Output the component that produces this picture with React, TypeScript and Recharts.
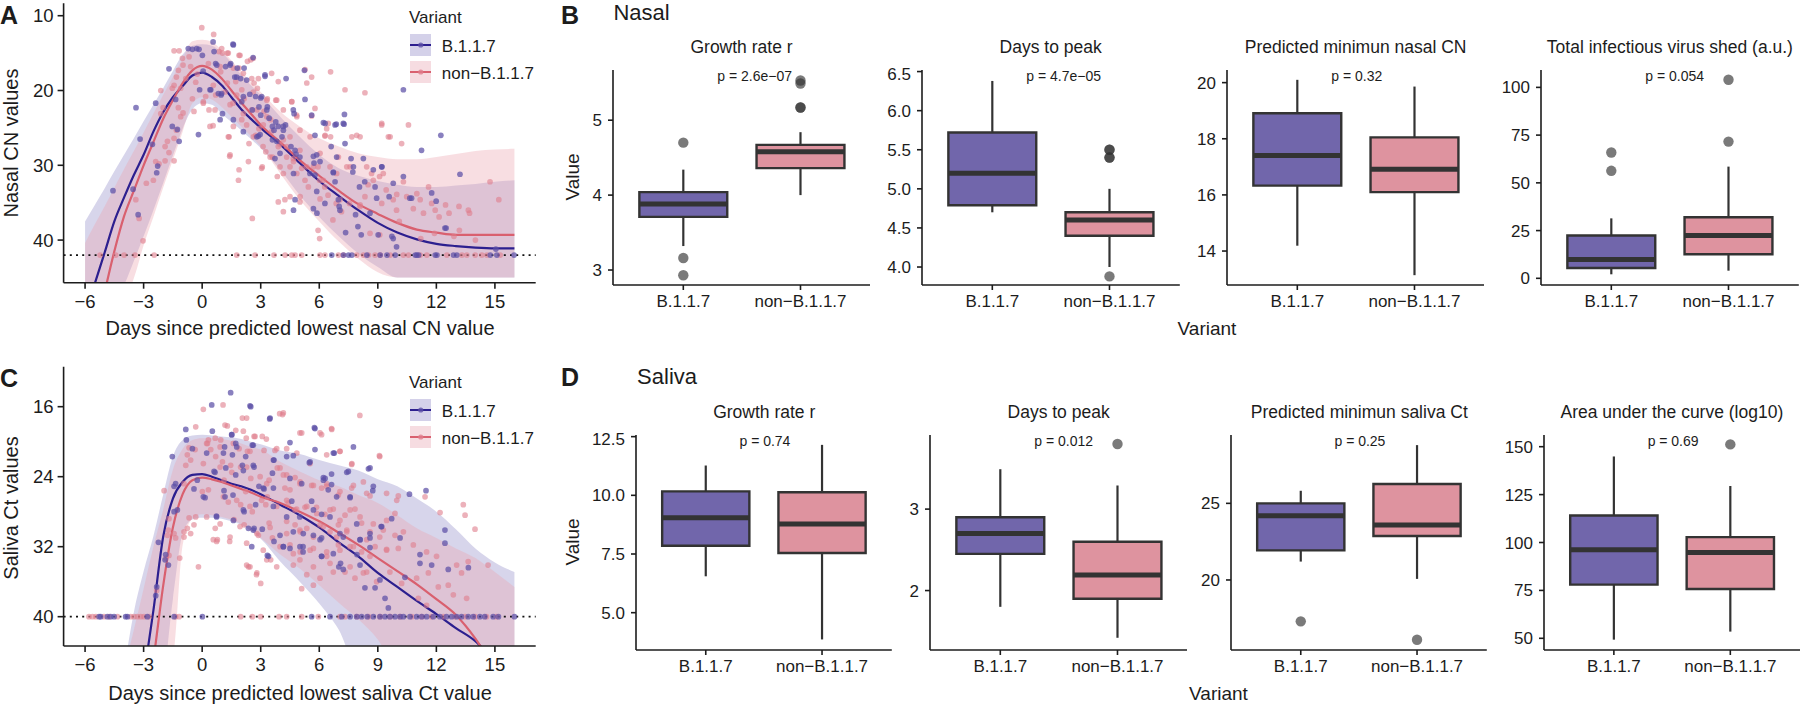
import React from 'react'
import {
  ComposedChart,
  Scatter,
  Area,
  Line,
  XAxis,
  YAxis,
  ReferenceLine,
  ReferenceArea,
  ReferenceDot,
} from 'recharts'

const FONT = '"Liberation Sans", Arial, Helvetica, sans-serif'
const INK = '#1c1c1c'

const variants = ['B.1.1.7', 'non\u2212B.1.1.7']

// colours: index 0 = B.1.1.7, index 1 = non-B.1.1.7
const pointColor = ['#5b4fa6', '#e07d8c']
const pointOpacity = [0.72, 0.6]
const lineColor = ['#2c1f8f', '#d9606f']
const ribbonColor = ['#9b95cc', '#eba3ae']
const ribbonOpacity = [0.4, 0.36]
const keyFill = ['#d4d1e9', '#f6dce1']
const boxFill = ['#7166ab', '#de939f']
const BOX_LINE = '#333333'

// ---------- fitted curves (days since lowest value) ----------
const fitDays = [-6, -5.5, -5, -4.5, -4, -3.5, -3, -2.5, -2, -1.5, -1, -0.5, 0, 0.5, 1, 1.5, 2, 2.5, 3, 4, 5, 6, 7, 8, 9, 10, 11, 12, 13, 14, 15, 16]

const nasalB117Fit = [50, 45.8, 41.7, 37.5, 34.3, 31.3, 28.6, 25.5, 22.9, 20.9, 19.4, 18.0, 17.6, 18.2, 19.3, 20.9, 22.5, 23.8, 25.0, 27.2, 29.7, 32.1, 34.1, 36.0, 37.7, 39.0, 39.9, 40.5, 40.8, 41.0, 41.1, 41.1]
const nasalNonFit = [null, null, 47, 41.5, 36.8, 33.4, 30.0, 26.9, 23.8, 21.3, 19.0, 17.3, 16.7, 17.2, 18.4, 20.0, 21.6, 23.1, 24.6, 26.9, 29.3, 31.4, 33.4, 35.2, 36.5, 37.7, 38.6, 39.0, 39.3, 39.3, 39.3, 39.3]
const nasalB117Lo = [37.5, 35.3, 33.1, 30.8, 28.6, 26.4, 24.1, 21.9, 19.7, 17.4, 15.2, 14.0, 13.8, 14.0, 14.9, 16.3, 17.9, 19.3, 20.6, 23.5, 26.2, 28.6, 30.4, 31.4, 32.1, 32.6, 32.9, 32.9, 32.7, 32.5, 32.2, 32.0]
const nasalB117Hi = [48, 48, 48, 48, 46, 42.8, 39.5, 36.0, 32.4, 28.7, 25.1, 22.5, 21.7, 21.9, 23.1, 24.2, 25.3, 26.5, 27.7, 30.6, 34.0, 36.9, 39.5, 41.8, 43.6, 45, 45, 45, 45, 45, 45, 45]
const nasalNonLo = [40.4, 37.9, 35.5, 33.0, 30.5, 28.1, 25.6, 23.1, 20.6, 18.2, 15.7, 13.4, 13.2, 13.5, 14.6, 16.0, 17.5, 18.9, 20.2, 22.8, 24.8, 26.4, 27.5, 28.4, 28.9, 29.2, 29.2, 28.9, 28.5, 28.1, 27.9, 27.8]
const nasalNonHi = [48, 48, 48, 48, 48, 45.1, 40.7, 36.9, 33.0, 29.3, 25.5, 21.7, 20.9, 21.2, 22.2, 23.5, 24.8, 26.1, 27.5, 31.1, 34.6, 37.5, 40.2, 42.5, 44.3, 45, 45, 45, 45, 45, 45, 45]

const salivaB117Fit = [null, null, null, null, null, null, 47, 39.3, 30.9, 26.5, 24.6, 23.8, 23.7, 24.0, 24.4, 24.8, 25.1, 25.5, 26.0, 27.2, 28.4, 29.8, 31.5, 33.1, 35.0, 36.6, 38.2, 39.7, 41.3, 42.8, 45.2, 47.5]
const salivaNonFit = [null, null, null, null, null, null, 52, 45.0, 36.5, 29.8, 26.0, 24.4, 24.1, 24.3, 24.6, 25.0, 25.4, 25.8, 26.3, 27.0, 28.0, 29.1, 30.4, 31.8, 33.3, 34.8, 36.3, 38.0, 39.8, 42.5, 46, 49]
const salivaB117Lo = [null, null, null, null, 46, 39.5, 34.8, 30.8, 26.1, 21.7, 19.8, 19.3, 19.2, 19.3, 19.4, 19.5, 19.7, 20.0, 20.3, 21.0, 21.4, 22.1, 22.7, 23.3, 24.3, 25.1, 26.5, 28.0, 30.0, 32.2, 33.8, 34.9]
const salivaB117Hi = [null, null, null, null, 46, 46, 46, 46, 46, 38.0, 30.5, 28.9, 28.7, 28.7, 28.8, 29.1, 29.5, 30.2, 31.1, 33.7, 36.0, 38.5, 41.5, 46, 46, 46, 46, 46, 46, 46, 46, 46]
const salivaNonLo = [null, null, null, null, 46, 41.5, 36.8, 32.0, 27.8, 23.2, 20.8, 19.8, 19.6, 19.6, 19.7, 19.9, 20.2, 20.6, 20.9, 22.3, 23.4, 24.4, 25.1, 26.1, 27.0, 28.4, 29.9, 31.0, 32.2, 33.3, 34.9, 36.6]
const salivaNonHi = [null, null, null, null, 46, 46, 46, 46, 46, 44.5, 31.8, 28.8, 28.3, 28.4, 28.6, 28.9, 29.4, 30.2, 31.0, 32.9, 34.5, 36.4, 38.4, 40.3, 42.6, 46, 46, 46, 46, 46, 46, 46]

// ---------- observed values [day, value] ----------
const nasalB117Pts = [
  [-4.57, 33.4], [-3.39, 22.3], [-3.18, 26.5], [-3.28, 36.6], [-3.54, 33.2], [-2.55, 27.2], [-2.28, 30.1], [-2.33, 31.0],
  [-2.38, 21.7], [-1.7, 17.1], [-1.36, 21.2], [-1.53, 24.8], [-1.27, 25.2], [-1.18, 26.8], [-0.71, 14.4], [-0.5, 14.5],
  [-0.28, 14.4], [-0.16, 14.5], [-0.19, 25.9], [0.01, 15.3], [0.05, 17.4], [-0.13, 19.9], [0.44, 19.9], [0.56, 13.5],
  [0.61, 14.8], [0.69, 16.4], [0.83, 20.4], [1.04, 23.1], [0.97, 20.6], [1.2, 16.8], [1.46, 16.4], [1.58, 13.8],
  [1.67, 18.2], [1.8, 17.0], [1.97, 18.4], [2.03, 21.5], [2.15, 17.0], [2.28, 18.6], [2.44, 20.5], [2.61, 15.6],
  [2.57, 22.6], [2.74, 20.8], [2.91, 22.2], [3.0, 21.0], [3.22, 18.1], [3.34, 22.2], [3.43, 23.7], [3.6, 24.8],
  [3.68, 25.3], [3.77, 24.2], [2.88, 26.1], [3.0, 23.3], [3.6, 26.6], [4.3, 18.4], [5.24, 17.3], [5.27, 21.2],
  [4.71, 23.1], [4.16, 24.8], [5.78, 26.0], [6.21, 24.3], [6.87, 24.5], [7.29, 23.2], [7.27, 24.5], [7.32, 27.1],
  [4.76, 28.0], [4.81, 28.5], [5.7, 28.8], [5.73, 29.7], [4.68, 31.1], [4.76, 34.6], [4.68, 36.0], [5.7, 35.8],
  [5.87, 33.5], [6.72, 30.9], [6.81, 32.2], [6.98, 34.6], [7.06, 36.0], [7.63, 29.1], [7.72, 30.9], [8.06, 32.9],
  [8.26, 29.1], [7.86, 36.6], [7.98, 38.2], [8.6, 36.4], [9.02, 39.3], [8.94, 34.4], [8.86, 32.9], [9.79, 32.4],
  [9.79, 39.8], [9.96, 40.9], [10.31, 19.9], [10.31, 31.5], [10.73, 34.4], [11.24, 28.0], [11.76, 33.7], [12.23, 26.0],
  [12.44, 38.4], [13.21, 31.2], [15.05, 41.2], [4.09, 26.2], [4.27, 24.6], [4.55, 27.5], [5.52, 31.1], [5.88, 36.4],
  [6.29, 35.1], [6.61, 27.5], [7.02, 35.5], [7.35, 39.0], [8.15, 39.3], [8.33, 32.2], [9.21, 30.2], [9.58, 34.2],
  [9.72, 39.5], [10.64, 34.4], [11.99, 34.8], [12.5, 38.4], [1.6, 13.9], [0.75, 16.6], [1.43, 16.6], [1.77, 18.2],
  [3.22, 17.9], [0.4, 19.9], [1.0, 20.4], [2.11, 20.8], [3.05, 20.8], [3.31, 22.6], [3.9, 24.8], [2.97, 25.9],
  [4.16, 25.3], [4.67, 22.6], [5.61, 23.3], [6.3, 24.4], [6.81, 24.6], [7.23, 24.4], [0.92, 23.9], [1.6, 23.9],
  [2.11, 25.5], [2.8, 26.2], [3.82, 26.8], [3.99, 28.4], [3.73, 29.1], [5.01, 28.9], [5.87, 28.6], [6.04, 29.5],
  [6.89, 28.9], [5.78, 31.3], [6.72, 31.0], [7.75, 30.2], [8.77, 30.6], [9.2, 30.2],
]
const nasalNonPts = [
  [-3.03, 40.1], [-3.23, 37.1], [-3.4, 34.6], [-2.86, 32.4], [-2.5, 32.0], [-2.38, 29.5], [-2.21, 29.8], [-1.9, 29.4],
  [-1.44, 29.4], [-2.12, 23.1], [-2.12, 20.0], [-2.0, 22.3], [-1.78, 26.8], [-1.9, 27.5], [-1.7, 28.3], [-1.44, 26.4],
  [-1.32, 25.3], [-1.1, 23.5], [-0.98, 23.0], [-1.22, 22.3], [-1.44, 19.3], [-1.53, 19.7], [-1.1, 19.7], [-1.32, 18.2],
  [-1.22, 17.3], [-1.01, 15.7], [-1.44, 14.7], [-1.18, 14.7], [-0.98, 16.6], [-0.84, 18.4], [-0.67, 15.5], [-0.59, 16.8],
  [-0.5, 21.1], [-0.42, 22.8], [-0.33, 18.9], [-0.25, 17.8], [-0.02, 11.6], [0.06, 21.5], [0.18, 20.8], [0.35, 22.6],
  [0.56, 24.7], [0.59, 12.5], [0.69, 20.6], [0.86, 14.8], [0.95, 17.5], [1.04, 15.0], [1.29, 15.0], [1.29, 19.0],
  [1.38, 26.2], [1.41, 28.8], [1.58, 21.7], [1.72, 18.8], [1.89, 15.3], [1.89, 17.0], [1.86, 32.0], [2.03, 19.9],
  [2.03, 23.9], [2.15, 21.1], [2.32, 16.1], [2.4, 27.1], [2.49, 15.9], [2.54, 22.6], [2.57, 37.1], [2.66, 19.0],
  [2.74, 26.0], [2.83, 19.7], [2.91, 25.1], [3.08, 30.2], [3.12, 27.5], [3.17, 22.8], [3.26, 28.2], [3.34, 21.1],
  [3.51, 23.9], [3.6, 28.9], [3.77, 21.3], [3.85, 31.5], [3.9, 27.5], [5.27, 17.2], [6.58, 17.5], [5.61, 18.2],
  [7.32, 19.9], [8.34, 20.3], [4.59, 21.5], [4.84, 23.3], [5.61, 23.4], [6.38, 25.1], [6.58, 26.2], [6.29, 26.1],
  [7.67, 26.2], [8.09, 26.2], [9.2, 24.6], [10.57, 24.6], [9.54, 26.2], [10.22, 27.1], [4.16, 26.6], [4.33, 27.5],
  [4.33, 28.9], [4.5, 30.2], [4.68, 29.5], [5.1, 30.4], [5.27, 32.0], [5.44, 32.9], [5.02, 34.2], [4.24, 34.6],
  [4.16, 36.2], [5.94, 30.2], [6.02, 32.0], [6.28, 32.9], [6.45, 34.0], [6.87, 35.1], [7.14, 36.2], [5.94, 38.7],
  [6.02, 39.8], [6.7, 37.3], [7.55, 35.1], [8.09, 35.5], [8.34, 34.2], [8.5, 32.6], [8.68, 31.1], [9.09, 31.5],
  [9.43, 33.3], [9.79, 34.6], [9.96, 36.0], [10.31, 32.2], [10.48, 34.2], [10.82, 35.8], [11.0, 33.8], [11.17, 34.6],
  [11.34, 36.4], [11.6, 32.9], [11.76, 35.1], [11.94, 36.0], [12.14, 36.9], [12.47, 35.3], [12.65, 36.4], [13.16, 35.5],
  [13.64, 36.0], [13.7, 36.4], [13.18, 38.7], [14.75, 32.2], [15.2, 34.6], [8.6, 39.1], [9.1, 39.3], [10.1, 37.5],
  [11.2, 39.8], [11.9, 39.1], [12.9, 39.5], [14.0, 40.0], [1.0, 14.4], [1.34, 15.0], [1.94, 15.3], [2.62, 15.7],
  [0.32, 16.4], [0.92, 16.8], [1.6, 17.0], [2.11, 17.7], [2.88, 18.4], [3.56, 17.7], [2.54, 18.4], [3.9, 18.8],
  [0.57, 19.3], [1.17, 20.2], [1.77, 20.6], [2.62, 20.2], [3.31, 21.3], [3.82, 21.3], [4.59, 21.5], [5.36, 19.0],
  [0.06, 21.7], [0.66, 22.6], [1.43, 21.9], [2.11, 23.1], [2.8, 22.6], [3.31, 23.5], [4.16, 22.6], [4.85, 23.5],
  [5.78, 22.4], [0.4, 24.8], [1.34, 26.2], [1.6, 24.8], [2.28, 24.6], [2.62, 26.2], [3.13, 24.6], [3.56, 25.5],
  [3.99, 27.2], [4.5, 26.2], [5.01, 25.3], [5.53, 26.2], [6.3, 26.0], [6.46, 24.4], [7.92, 26.0], [9.2, 24.4],
  [9.63, 26.2], [1.43, 28.6], [2.37, 29.5], [3.05, 30.4], [3.48, 28.9], [3.99, 30.2], [4.67, 29.1], [5.01, 28.0],
  [5.36, 30.2], [6.04, 28.4], [6.55, 30.2], [6.98, 28.9], [7.41, 30.2], [1.89, 30.6], [4.16, 31.1], [4.85, 31.1],
  [5.7, 30.2], [6.21, 32.0], [6.89, 31.1], [7.58, 30.2], [8.43, 30.2], [8.77, 32.0], [9.28, 31.1], [9.97, 33.9],
  [3.9, 34.9], [4.5, 34.2], [5.01, 34.9], [6.04, 34.5], [7.06, 34.6], [8.09, 35.3], [9.2, 35.1],
]
// days of samples at the detection limit
const nasalB117Lod = [6.64, 7.24, 7.5, 7.67, 8.44, 9.12, 9.47, 9.89, 10.92, 11.0, 11.09, 11.94, 12.03, 12.88, 13.05, 14.76, 15.1, 15.98]
const nasalNonLod = [-5.23, -4.43, -4.0, -3.44, -2.46, 1.77, 2.71, 3.68, 4.25, 4.59, 4.76, 5.1, 6.04, 6.29, 6.98, 7.23, 7.92, 8.26, 8.52, 8.86, 9.12, 9.63, 10.31, 10.57, 11.17, 11.51, 12.54, 13.31, 13.56, 13.99, 14.33, 14.59, 15.27]

const salivaB117Pts = [
  [-2.38, 37.6], [-2.33, 36.6], [-1.87, 32.9], [-1.9, 33.5], [-1.73, 34.1], [-2.24, 31.5], [-1.53, 21.7], [-1.44, 25.1],
  [-1.36, 24.8], [-1.44, 28.0], [-1.27, 27.8], [-0.84, 18.6], [-0.81, 19.8], [-0.5, 20.8], [-0.42, 25.4], [-0.25, 24.4],
  [0.15, 26.4], [0.49, 15.8], [0.52, 18.8], [0.61, 23.4], [0.73, 28.5], [1.15, 20.6], [1.12, 25.6], [1.21, 23.0],
  [1.46, 14.4], [1.51, 19.2], [1.55, 21.5], [1.58, 26.1], [1.72, 20.2], [1.72, 23.8], [2.06, 22.7], [2.15, 28.0],
  [2.23, 21.7], [2.49, 16.0], [2.57, 20.4], [2.66, 22.9], [2.66, 29.9], [2.74, 27.2], [2.91, 25.1], [3.08, 30.0],
  [3.17, 25.4], [3.34, 33.0], [3.46, 17.4], [3.6, 23.6], [3.68, 22.1], [3.68, 31.4], [5.75, 18.4], [6.77, 21.3],
  [7.75, 20.6], [8.52, 23.1], [8.6, 23.0], [4.5, 20.1], [4.33, 21.7], [5.49, 22.4], [6.21, 24.1], [6.63, 23.7],
  [6.63, 24.9], [6.46, 25.5], [7.49, 23.4], [7.58, 26.4], [8.74, 25.6], [10.62, 26.0], [11.47, 25.6], [4.59, 26.8],
  [5.61, 26.8], [6.12, 28.3], [5.0, 28.6], [4.67, 30.3], [4.16, 32.0], [4.5, 32.2], [5.17, 32.0], [5.17, 32.6],
  [6.12, 33.1], [6.12, 31.0], [5.7, 30.7], [7.0, 34.3], [7.09, 33.9], [7.93, 32.9], [8.09, 31.2], [8.6, 31.0],
  [8.6, 32.1], [9.17, 29.7], [9.71, 28.8], [10.14, 31.0], [8.34, 36.7], [8.86, 36.7], [9.11, 35.8], [9.37, 37.9],
  [9.54, 39.0], [10.39, 35.5], [11.16, 32.9], [11.16, 33.9], [11.76, 34.1], [12.44, 31.6], [12.61, 34.6], [13.64, 34.4],
  [12.44, 30.1], [2.45, 15.9], [3.48, 17.3], [5.78, 18.5], [1.52, 19.2], [2.62, 20.4], [1.77, 20.6], [5.78, 20.9],
  [6.72, 21.3], [0.23, 21.3], [1.09, 21.3], [2.62, 22.7], [3.65, 22.1], [4.67, 21.6], [5.53, 22.3], [6.3, 24.2],
  [7.41, 23.5], [0.66, 23.5], [2.11, 23.3], [3.13, 25.3], [3.65, 25.3], [4.5, 24.2], [5.1, 24.8], [6.21, 24.4],
  [6.89, 26.3], [7.58, 26.3], [8.77, 25.1], [0.06, 26.3], [1.17, 26.3], [2.11, 27.8], [3.65, 27.4], [4.33, 28.6],
  [5.7, 27.8], [6.55, 28.6], [7.06, 30.5], [7.92, 29.4], [8.6, 30.5], [9.2, 29.7], [0.74, 28.6], [1.6, 29.0],
  [2.37, 29.9], [2.62, 30.1], [3.99, 30.7], [5.18, 30.5], [6.04, 31.2], [7.23, 30.9], [8.09, 31.2], [2.54, 32.0],
  [3.4, 33.1], [4.16, 32.0], [5.01, 32.0], [6.12, 33.1], [6.72, 32.8], [7.23, 34.6], [8.09, 34.1],
]
const salivaNonPts = [
  [-2.33, 37.0], [-1.7, 33.0], [-1.87, 33.3], [-1.15, 33.3], [-1.78, 30.7], [-1.73, 30.1], [-1.44, 30.5], [-1.36, 31.0],
  [-1.7, 28.8], [-1.95, 25.6], [-0.93, 30.3], [-0.93, 30.9], [-0.76, 29.9], [-0.67, 28.7], [-0.59, 30.5], [-0.42, 29.5],
  [-0.33, 28.6], [-0.93, 24.8], [-0.84, 22.7], [-0.76, 21.5], [-0.59, 22.1], [-0.67, 20.7], [-0.36, 20.9], [-0.33, 18.3],
  [-0.19, 34.3], [0.01, 25.7], [0.06, 16.3], [0.27, 20.2], [0.32, 19.8], [0.44, 20.9], [0.67, 19.6], [0.69, 21.7],
  [0.67, 29.9], [0.78, 31.2], [0.95, 19.8], [1.07, 15.8], [1.04, 22.3], [1.12, 24.4], [1.29, 18.2], [1.34, 26.9],
  [1.46, 22.7], [1.41, 31.4], [1.63, 28.9], [1.72, 18.7], [1.89, 20.8], [1.97, 22.9], [1.97, 27.2], [2.06, 17.3],
  [2.15, 29.5], [2.23, 25.7], [2.26, 19.6], [2.32, 21.1], [2.37, 34.3], [2.49, 24.2], [2.57, 28.0], [2.66, 19.4],
  [2.78, 35.2], [2.88, 30.7], [3.0, 36.2], [3.08, 19.4], [3.17, 21.0], [3.29, 19.7], [3.26, 27.2], [3.34, 26.3],
  [3.43, 24.4], [3.43, 29.3], [3.51, 33.5], [3.6, 31.0], [3.73, 21.0], [3.85, 23.0], [3.97, 16.8], [4.12, 16.9],
  [5.1, 19.0], [6.12, 19.2], [6.63, 18.5], [8.08, 17.0], [7.06, 21.1], [9.08, 21.6], [7.66, 22.6], [3.99, 23.0],
  [4.33, 23.8], [4.76, 24.1], [5.02, 24.6], [5.61, 25.0], [6.12, 25.3], [6.38, 24.8], [4.24, 25.3], [4.5, 25.5],
  [6.98, 26.1], [7.66, 25.3], [8.43, 25.9], [10.05, 26.2], [11.42, 26.3], [12.19, 28.1], [13.38, 27.2], [13.47, 28.4],
  [13.98, 30.0], [4.41, 27.0], [4.84, 27.7], [5.27, 27.5], [5.86, 27.5], [6.29, 28.3], [6.72, 27.7], [7.32, 28.4],
  [7.83, 27.7], [4.33, 29.1], [4.76, 29.5], [5.02, 30.3], [5.36, 29.9], [6.04, 29.5], [6.55, 30.3], [6.98, 29.5],
  [7.41, 30.1], [8.17, 29.3], [8.6, 30.3], [9.28, 30.1], [9.88, 30.7], [10.31, 30.3], [4.5, 31.8], [5.02, 32.6],
  [5.7, 32.2], [6.38, 32.6], [6.98, 31.8], [7.58, 32.0], [8.17, 32.6], [8.86, 32.0], [9.45, 32.3], [10.05, 32.2],
  [10.82, 31.8], [11.5, 32.6], [12.01, 33.1], [13.04, 34.1], [13.29, 35.0], [13.63, 33.7], [14.65, 34.1], [4.67, 34.1],
  [5.36, 35.2], [6.04, 35.6], [6.72, 34.9], [7.32, 34.9], [7.83, 35.6], [8.43, 34.9], [8.94, 36.0], [9.62, 34.9],
  [10.22, 36.2], [10.99, 35.6], [11.59, 35.0], [12.1, 36.6], [12.61, 36.4], [12.87, 37.5], [13.55, 37.9], [5.1, 36.8],
  [5.7, 36.4], [11.08, 37.9], [11.5, 38.7], [4.16, 16.7], [2.28, 17.3], [1.17, 18.1], [2.11, 18.8], [2.71, 19.4],
  [5.01, 19.0], [6.04, 19.0], [6.64, 18.6], [0.23, 20.2], [0.92, 20.6], [1.6, 20.2], [2.45, 21.1], [3.82, 20.8],
  [4.33, 20.8], [4.85, 21.3], [5.53, 22.5], [6.38, 21.5], [7.06, 21.1], [7.67, 22.5], [8.26, 24.6], [9.1, 21.7],
  [0.06, 22.5], [0.92, 22.9], [1.52, 23.5], [2.28, 22.9], [2.97, 24.0], [3.31, 24.8], [4.16, 23.8], [5.01, 24.8],
  [5.7, 25.0], [6.38, 25.1], [7.06, 25.7], [7.75, 25.0], [8.6, 26.2], [9.45, 25.9], [9.97, 26.7], [0.32, 25.5],
  [1.09, 26.3], [1.77, 26.7], [2.45, 27.4], [3.05, 26.7], [3.82, 27.4], [4.33, 26.7], [4.76, 27.8], [5.36, 27.4],
  [5.87, 28.2], [6.55, 27.8], [7.06, 29.0], [7.58, 27.8], [8.09, 28.6], [8.77, 29.4], [9.45, 29.0], [9.88, 28.2],
  [0.23, 28.6], [0.92, 29.4], [1.94, 29.7], [2.8, 30.5], [3.48, 29.8], [4.33, 30.5], [5.01, 30.1], [5.7, 30.9],
  [6.21, 29.7], [6.89, 30.9], [7.41, 30.3], [8.43, 31.2], [9.1, 30.9], [0.57, 31.2], [1.43, 30.9], [2.28, 31.6],
  [3.13, 32.4], [3.99, 32.0], [4.67, 32.8], [5.53, 32.4], [6.38, 33.1], [7.06, 32.4], [7.75, 32.0], [8.6, 33.1],
  [9.45, 32.4], [2.45, 34.3], [3.31, 33.5], [3.82, 34.3], [5.01, 33.5], [5.7, 34.3], [6.55, 33.9], [7.58, 34.3],
  [8.26, 35.0], [2.8, 35.0], [2.28, 34.1], [0.74, 31.4],
]
const salivaB117Lod = [-5.28, -5.2, -4.86, -4.69, -4.51, -3.92, -3.83, -2.81, -1.44, 0.01, 5.61, 6.55, 7.15, 7.58, 7.92, 8.17, 8.46, 8.77, 9.11, 9.37, 9.62, 9.88, 10.14, 10.31, 10.65, 10.99, 11.25, 11.5, 11.84, 12.18, 12.52, 12.78, 13.04, 13.29, 13.63, 13.89, 14.23, 14.48, 14.91, 15.18, 16.0]
const salivaNonLod = [-5.8, -5.62, -5.45, -5.03, -4.77, -4.34, -3.66, -3.49, -3.32, -3.15, -2.98, -2.72, -1.36, -1.18, 1.97, 2.57, 3.0, 3.94, 4.33, 5.1, 5.95, 7.06, 7.32, 7.92, 8.52, 9.12, 9.63, 10.14, 10.74, 11.25, 11.76, 12.36, 12.95, 13.47, 13.98, 14.57, 15.08]

// ---------- box plot stats: [lower whisker, Q1, median, Q3, upper whisker] ----------
const nasalGrowthB117 = [3.32, 3.71, 3.88, 4.04, 4.34]
const nasalGrowthNon = [4.0, 4.36, 4.58, 4.67, 4.84]
const nasalGrowthOutB117 = [4.70, 3.16, 2.93]
const nasalGrowthOutNon = [5.53, 5.49, 5.17, 5.17]

const nasalPeakB117 = [4.70, 4.79, 5.20, 5.72, 6.38]
const nasalPeakNon = [4.0, 4.4, 4.6, 4.7, 5.0]
const nasalPeakOutNon = [5.5, 5.5, 5.4, 5.4, 3.88]

const nasalMinB117 = [14.19, 16.33, 17.40, 18.91, 20.1]
const nasalMinNon = [13.14, 16.1, 16.91, 18.05, 19.86]

const nasalShedB117 = [2.1, 5.4, 9.9, 22.4, 31.4]
const nasalShedNon = [4.0, 12.6, 22.4, 32.0, 58.5]
const nasalShedOutB117 = [65.9, 56.3]
const nasalShedOutNon = [104, 71.6]

const salivaGrowthB117 = [6.55, 7.85, 9.04, 10.17, 11.27]
const salivaGrowthNon = [3.86, 7.54, 8.78, 10.13, 12.15]

const salivaPeakB117 = [1.80, 2.45, 2.70, 2.90, 3.49]
const salivaPeakNon = [1.42, 1.90, 2.19, 2.60, 3.29]
const salivaPeakOutNon = [3.80]

const salivaMinB117 = [21.2, 21.93, 24.19, 25.0, 25.82]
const salivaMinNon = [20.07, 22.87, 23.59, 26.26, 28.8]
const salivaMinOutB117 = [17.3]
const salivaMinOutNon = [16.1]

const salivaAucB117 = [49.3, 78.0, 96.2, 114.1, 144.9]
const salivaAucNon = [53.5, 75.7, 94.8, 102.8, 129.5]
const salivaAucOutNon = [151.2]

const fmt1 = (v: number) => v.toFixed(1)
const fmt0 = (v: number) => `${v}`
const minus = (v: number) => (v < 0 ? `\u2212${Math.abs(v)}` : `${v}`)

const nasalBoxes = [
  { left: 612.6, width: 257.8, title: 'Growth rate r', p: 'p = 2.6e\u221207', domain: [2.8, 5.67], ticks: [3, 4, 5], fmt: fmt0, groups: [nasalGrowthB117, nasalGrowthNon], outs: [nasalGrowthOutB117, nasalGrowthOutNon] },
  { left: 921.8, width: 257.8, title: 'Days to peak', p: 'p = 4.7e\u221205', domain: [3.77, 6.52], ticks: [4, 4.5, 5, 5.5, 6, 6.5], fmt: fmt1, groups: [nasalPeakB117, nasalPeakNon], outs: [[], nasalPeakOutNon] },
  { left: 1226.7, width: 257.8, title: 'Predicted minimun nasal CN', p: 'p = 0.32', domain: [12.79, 20.45], ticks: [14, 16, 18, 20], fmt: fmt0, groups: [nasalMinB117, nasalMinNon], outs: [[], []] },
  { left: 1541, width: 257.8, title: 'Total infectious virus shed (a.u.)', p: 'p = 0.054', domain: [-3.5, 109.1], ticks: [0, 25, 50, 75, 100], fmt: fmt0, groups: [nasalShedB117, nasalShedNon], outs: [nasalShedOutB117, nasalShedOutNon] },
]
const salivaBoxes = [
  { left: 636.3, width: 255.8, title: 'Growth rate r', p: 'p = 0.74', domain: [3.41, 12.57], ticks: [5, 7.5, 10, 12.5], fmt: fmt1, groups: [salivaGrowthB117, salivaGrowthNon], outs: [[], []] },
  { left: 929.7, width: 257.8, title: 'Days to peak', p: 'p = 0.012', domain: [1.27, 3.91], ticks: [2, 3], fmt: fmt0, groups: [salivaPeakB117, salivaPeakNon], outs: [[], salivaPeakOutNon] },
  { left: 1231.4, width: 255.8, title: 'Predicted minimun saliva Ct', p: 'p = 0.25', domain: [15.43, 29.46], ticks: [20, 25], fmt: fmt0, groups: [salivaMinB117, salivaMinNon], outs: [salivaMinOutB117, salivaMinOutNon] },
  { left: 1543.8, width: 256.2, title: 'Area under the curve (log10)', p: 'p = 0.69', domain: [43.9, 156.1], ticks: [50, 75, 100, 125, 150], fmt: fmt0, groups: [salivaAucB117, salivaAucNon], outs: [[], salivaAucOutNon] },
]

const axisLine = { stroke: INK, strokeWidth: 1.6 }

function Txt({ x, y, children, size = 17, weight = 400, anchor = 'middle', rotate = false }: any) {
  const tx = anchor === 'middle' ? '-50%' : '0'
  return (
    <div
      style={{
        position: 'absolute',
        left: x,
        top: y,
        transform: `translate(${tx}, -50%)${rotate ? ' rotate(-90deg)' : ''}`,
        fontSize: size,
        fontWeight: weight,
        lineHeight: 1,
        whiteSpace: 'nowrap',
        color: INK,
      }}
    >
      {children}
    </div>
  )
}

const dotShape = (fill: string, opacity: number, r: number) => (p: any) =>
  <circle cx={p.cx} cy={p.cy} r={r} fill={fill} fillOpacity={opacity} />

function Trajectory({ top, height, plotTop, plotBottom, yDomain, yTicks, limit, fits, pts, lods }: any) {
  const xAxisH = 50
  const rows = fitDays.map((x, i) => ({
    x,
    bFit: fits[0][i],
    nFit: fits[1][i],
    bBand: fits[2][i] == null ? null : [fits[2][i], fits[3][i]],
    nBand: fits[4][i] == null ? null : [fits[4][i], fits[5][i]],
  }))
  const asPts = (list: number[][]) => list.map(([x, y]) => ({ x, y }))
  const atLimit = (xs: number[]) => xs.map((x) => ({ x, y: limit }))
  const r = 2.85
  return (
    <div style={{ position: 'absolute', left: 0, top }}>
      <ComposedChart
        width={560}
        height={height}
        data={rows}
        margin={{ top: plotTop, right: 24.3, bottom: height - plotBottom - xAxisH, left: 0 }}
      >
        <XAxis
          type="number"
          dataKey="x"
          domain={[-7.1, 17.09]}
          ticks={[-6, -3, 0, 3, 6, 9, 12, 15]}
          tickFormatter={minus}
          allowDataOverflow
          height={xAxisH}
          tick={{ fill: INK, fontSize: 18.5 }}
          tickSize={6}
          tickMargin={6}
          axisLine={axisLine}
          tickLine={axisLine}
        />
        <YAxis
          type="number"
          dataKey="y"
          reversed
          domain={yDomain}
          ticks={yTicks}
          allowDataOverflow
          width={63.6}
          tick={{ fill: INK, fontSize: 18.5 }}
          tickSize={6}
          tickMargin={4}
          axisLine={axisLine}
          tickLine={axisLine}
        />
        <ReferenceLine y={limit} stroke="#111" strokeDasharray="2 4.2" strokeWidth={1.8} />
        <Scatter data={asPts(pts[1])} shape={dotShape(pointColor[1], pointOpacity[1], r)} isAnimationActive={false} />
        <Scatter data={atLimit(lods[1])} shape={dotShape(pointColor[1], pointOpacity[1], r)} isAnimationActive={false} />
        <Scatter data={asPts(pts[0])} shape={dotShape(pointColor[0], pointOpacity[0], r)} isAnimationActive={false} />
        <Scatter data={atLimit(lods[0])} shape={dotShape(pointColor[0], pointOpacity[0], r)} isAnimationActive={false} />
        <Area dataKey="bBand" type="monotone" stroke="none" fill={ribbonColor[0]} fillOpacity={ribbonOpacity[0]} isAnimationActive={false} activeDot={false} />
        <Area dataKey="nBand" type="monotone" stroke="none" fill={ribbonColor[1]} fillOpacity={ribbonOpacity[1]} isAnimationActive={false} activeDot={false} />
        <Line dataKey="bFit" type="monotone" stroke={lineColor[0]} strokeWidth={2.2} dot={false} activeDot={false} isAnimationActive={false} />
        <Line dataKey="nFit" type="monotone" stroke={lineColor[1]} strokeWidth={2.2} dot={false} activeDot={false} isAnimationActive={false} />
      </ComposedChart>
    </div>
  )
}

function VariantLegend({ top }: { top: number }) {
  return (
    <>
      <Txt x={409} y={top + 10} size={17} anchor="start">Variant</Txt>
      {variants.map((v, i) => (
        <React.Fragment key={v}>
          <svg style={{ position: 'absolute', left: 409.6, top: top + 27.6 + i * 26.7 }} width={21.5} height={22}>
            <rect width={21.5} height={22} fill={keyFill[i]} />
            <line x1={0} x2={21.5} y1={11} y2={11} stroke={lineColor[i]} strokeWidth={2} />
            <circle cx={10.75} cy={11} r={2.6} fill={pointColor[i]} fillOpacity={0.8} />
          </svg>
          <Txt x={441.8} y={top + 39.6 + i * 26.7} size={17} anchor="start">{v}</Txt>
        </React.Fragment>
      ))}
    </>
  )
}

function BoxPlot({ top, spec }: any) {
  const axisW = 56
  const mTop = 6
  const plotH = 215
  const xAxisH = 34
  const outliers = spec.outs.flatMap((list: number[], i: number) => list.map((y) => ({ x: i + 1, y })))
  return (
    <div style={{ position: 'absolute', left: spec.left - axisW, top: top - mTop }}>
      <ComposedChart
        width={axisW + spec.width}
        height={mTop + plotH + xAxisH}
        margin={{ top: mTop, right: 0, bottom: 0, left: 0 }}
      >
        <XAxis
          type="number"
          dataKey="x"
          domain={[0.4, 2.6]}
          ticks={[1, 2]}
          tickFormatter={(v: number) => variants[v - 1]}
          allowDataOverflow
          height={xAxisH}
          tick={{ fill: INK, fontSize: 17 }}
          tickSize={5}
          tickMargin={5}
          axisLine={axisLine}
          tickLine={axisLine}
        />
        <YAxis
          type="number"
          dataKey="y"
          domain={spec.domain}
          ticks={spec.ticks}
          tickFormatter={spec.fmt}
          allowDataOverflow
          width={axisW}
          tick={{ fill: INK, fontSize: 17 }}
          tickSize={5}
          tickMargin={6}
          axisLine={axisLine}
          tickLine={axisLine}
        />
        {spec.groups.map((g: number[], i: number) => {
          const c = i + 1
          return [
            <ReferenceLine key={`wu${i}`} segment={[{ x: c, y: g[3] }, { x: c, y: g[4] }]} stroke={BOX_LINE} strokeWidth={2.2} />,
            <ReferenceLine key={`wl${i}`} segment={[{ x: c, y: g[0] }, { x: c, y: g[1] }]} stroke={BOX_LINE} strokeWidth={2.2} />,
            <ReferenceArea key={`bx${i}`} x1={c - 0.375} x2={c + 0.375} y1={g[1]} y2={g[3]} fill={boxFill[i]} fillOpacity={1} stroke={BOX_LINE} strokeWidth={2.4} />,
            <ReferenceLine key={`md${i}`} segment={[{ x: c - 0.375, y: g[2] }, { x: c + 0.375, y: g[2] }]} stroke={BOX_LINE} strokeWidth={5} />,
          ]
        })}
        <Scatter data={outliers} shape={dotShape('#333333', 0.65, 5.2)} isAnimationActive={false} />
        <ReferenceDot
          x={1.29}
          y={spec.domain[1]}
          r={0}
          ifOverflow="visible"
          shape={(p: any) => (
            <text x={p.cx} y={p.cy + 11} fontSize={14} fill={INK}>
              {spec.p}
            </text>
          )}
        />
      </ComposedChart>
    </div>
  )
}

export default function App() {
  return (
    <div
      style={{
        position: 'absolute',
        left: 0,
        top: 0,
        width: 1800,
        height: 706,
        overflow: 'hidden',
        background: '#fff',
        fontFamily: FONT,
        color: INK,
      }}
    >
      <Trajectory
        top={0}
        height={360}
        plotTop={3.3}
        plotBottom={282.7}
        yDomain={[8.34, 45.7]}
        yTicks={[10, 20, 30, 40]}
        limit={42}
        fits={[nasalB117Fit, nasalNonFit, nasalB117Lo, nasalB117Hi, nasalNonLo, nasalNonHi]}
        pts={[nasalB117Pts, nasalNonPts]}
        lods={[nasalB117Lod, nasalNonLod]}
      />
      <Trajectory
        top={360}
        height={346}
        plotTop={6.7}
        plotBottom={286}
        yDomain={[11.43, 43.35]}
        yTicks={[16, 24, 32, 40]}
        limit={40}
        fits={[salivaB117Fit, salivaNonFit, salivaB117Lo, salivaB117Hi, salivaNonLo, salivaNonHi]}
        pts={[salivaB117Pts, salivaNonPts]}
        lods={[salivaB117Lod, salivaNonLod]}
      />
      {nasalBoxes.map((spec) => (
        <BoxPlot key={`n${spec.title}`} top={70} spec={spec} />
      ))}
      {salivaBoxes.map((spec) => (
        <BoxPlot key={`s${spec.title}`} top={435} spec={spec} />
      ))}

      <VariantLegend top={6.7} />
      <VariantLegend top={371.7} />

      <Txt x={0} y={14.5} size={25} weight={700} anchor="start">A</Txt>
      <Txt x={0} y={378} size={25} weight={700} anchor="start">C</Txt>
      <Txt x={561} y={14.5} size={25} weight={700} anchor="start">B</Txt>
      <Txt x={561} y={377} size={25} weight={700} anchor="start">D</Txt>

      <Txt x={10.7} y={142.5} size={20} rotate>Nasal CN values</Txt>
      <Txt x={300} y={328.3} size={20}>Days since predicted lowest nasal CN value</Txt>
      <Txt x={10.7} y={507.5} size={20} rotate>Saliva Ct values</Txt>
      <Txt x={300} y={693.3} size={20}>Days since predicted lowest saliva Ct value</Txt>

      <Txt x={613.4} y={13} size={22} anchor="start">Nasal</Txt>
      <Txt x={637.1} y={376.7} size={22} anchor="start">Saliva</Txt>
      {nasalBoxes.map((s) => (
        <Txt key={`tn${s.title}`} x={s.left + s.width / 2} y={48} size={17.5}>{s.title}</Txt>
      ))}
      {salivaBoxes.map((s) => (
        <Txt key={`ts${s.title}`} x={s.left + s.width / 2} y={412.5} size={17.5}>{s.title}</Txt>
      ))}
      <Txt x={572} y={177} size={19} rotate>Value</Txt>
      <Txt x={572} y={541.7} size={19} rotate>Value</Txt>
      <Txt x={1207} y={328.3} size={19}>Variant</Txt>
      <Txt x={1218.5} y={693.3} size={19}>Variant</Txt>
    </div>
  )
}
